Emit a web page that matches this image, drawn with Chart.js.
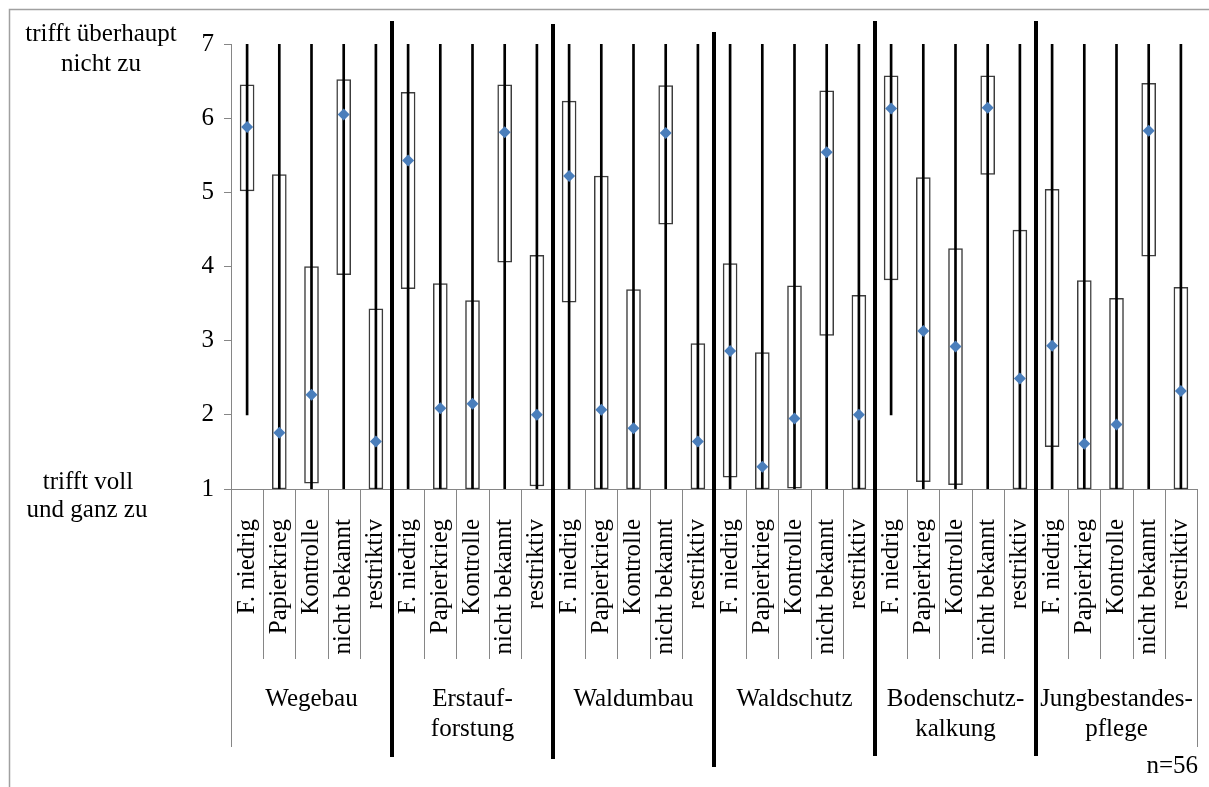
<!DOCTYPE html>
<html lang="de">
<head>
<meta charset="utf-8">
<title>Bewertung der Förderbereiche</title>
<script src="https://cdn.jsdelivr.net/npm/chart.js@4.4.1/dist/chart.umd.min.js"></script>
<style>
  html, body { margin: 0; padding: 0; background: #ffffff; }
  #wrap { width: 1209px; height: 787px; position: relative; }
  canvas { display: block; }
</style>
</head>
<body>
<div id="wrap"><canvas id="chart" width="1209" height="787"></canvas></div>
<script>
// Förderbereiche (Gruppen) und Antwortkategorien je Bereich
const groupLabels = [
  ['Wegebau'],
  ['Erstauf-', 'forstung'],
  ['Waldumbau'],
  ['Waldschutz'],
  ['Bodenschutz-', 'kalkung'],
  ['Jungbestandes-', 'pflege']
];
const answerLabels = ['F. niedrig', 'Papierkrieg', 'Kontrolle', 'nicht bekannt', 'restriktiv'];

// Skala 1 = trifft voll und ganz zu ... 7 = trifft überhaupt nicht zu
const yTicks = [1, 2, 3, 4, 5, 6, 7];

// Minimum / Maximum (Antennen)
const whiskerMin = [
  2, 1, 1, 1, 1,
  1, 1, 1, 1, 1,
  1, 1, 1, 1, 1,
  1, 1, 1, 1, 1,
  2, 1, 1, 1, 1,
  1, 1, 1, 1, 1
];
const whiskerMax = [
  7, 7, 7, 7, 7,
  7, 7, 7, 7, 7,
  7, 7, 7, 7, 7,
  7, 7, 7, 7, 7,
  7, 7, 7, 7, 7,
  7, 7, 7, 7, 7
];

// Unteres / oberes Quartil (Kasten)
const quartileLow = [
  5.02, 1.00, 1.08, 3.89, 1.00,
  3.70, 1.00, 1.00, 4.06, 1.04,
  3.52, 1.00, 1.00, 4.57, 1.00,
  1.16, 1.00, 1.01, 3.07, 1.00,
  3.82, 1.10, 1.06, 5.24, 1.00,
  1.57, 1.00, 1.00, 4.14, 1.00
];
const quartileHigh = [
  6.45, 5.24, 4.00, 6.52, 3.43,
  6.35, 3.77, 3.54, 6.45, 4.15,
  6.23, 5.22, 3.69, 6.44, 2.96,
  4.04, 2.84, 3.74, 6.37, 3.61,
  6.57, 5.20, 4.24, 6.57, 4.49,
  5.04, 3.81, 3.57, 6.47, 3.72
];

// Mittelwerte (Raute)
const meanValues = [
  5.88, 1.76, 2.27, 6.05, 1.64,
  5.43, 2.09, 2.15, 5.81, 2.00,
  5.22, 2.07, 1.82, 5.80, 1.64,
  2.86, 1.30, 1.95, 5.54, 2.00,
  6.13, 3.13, 2.92, 6.14, 2.49,
  2.93, 1.61, 1.87, 5.83, 2.32
];

const sampleNote = 'n=56';
const titleTop = ['trifft überhaupt', 'nicht zu'];
const titleBottom = ['trifft voll', 'und ganz zu'];

// ---- derived structures for Chart.js ----
const categories = [];
groupLabels.forEach(() => answerLabels.forEach(a => categories.push(a)));
const whiskerData = whiskerMin.map((lo, i) => [lo, whiskerMax[i]]);
const boxData = quartileLow.map((lo, i) => [lo, quartileHigh[i]]);

const SERIF = "'Liberation Serif', 'Times New Roman', Times, serif";
const AXIS_GRAY = '#868686';
const perGroup = answerLabels.length;

// Frame, category dividers, group labels, separators and annotations
const decorations = {
  id: 'decorations',
  beforeDraw(chart) {
    const ctx = chart.ctx;
    ctx.save();
    ctx.strokeStyle = '#a0a0a0';
    ctx.lineWidth = 1.5;
    ctx.beginPath();
    ctx.moveTo(9.5, chart.height);
    ctx.lineTo(9.5, 9.5);
    ctx.lineTo(chart.width, 9.5);
    ctx.stroke();
    ctx.restore();
  },
  afterDraw(chart) {
    const ctx = chart.ctx;
    const x = chart.scales.x;
    const area = chart.chartArea;
    const n = categories.length;
    const step = (x.getPixelForValue(1) - x.getPixelForValue(0));
    const edge = i => x.getPixelForValue(0) - step / 2 + i * step;

    ctx.save();
    // divider lines below the category axis
    ctx.strokeStyle = AXIS_GRAY;
    ctx.lineWidth = 1;
    for (let i = 0; i <= n; i++) {
      const px = Math.round(edge(i)) + 0.5;
      const isGroupEdge = i % perGroup === 0;
      ctx.beginPath();
      ctx.moveTo(px, area.bottom);
      ctx.lineTo(px, isGroupEdge ? 747 : 659);
      ctx.stroke();
    }

    // group labels
    ctx.fillStyle = '#000';
    ctx.font = '25px ' + SERIF;
    ctx.textAlign = 'center';
    ctx.textBaseline = 'alphabetic';
    groupLabels.forEach((lines, g) => {
      const cx = (edge(g * perGroup) + edge((g + 1) * perGroup)) / 2;
      lines.forEach((t, k) => ctx.fillText(t, cx, 706 + k * 30));
    });

    // y-axis end labels
    ctx.fillText(titleTop[0], 101, 41);
    ctx.fillText(titleTop[1], 101, 71);
    ctx.fillText(titleBottom[0], 88, 489);
    ctx.fillText(titleBottom[1], 87, 517);

    // sample size
    ctx.textAlign = 'right';
    ctx.fillText(sampleNote, 1198, 773);

    // heavy separators between the groups
    const tops = [21, 24, 32, 21, 21];
    const bottoms = [757, 759, 767, 756, 756];
    ctx.strokeStyle = '#000';
    ctx.lineWidth = 4;
    for (let g = 1; g < groupLabels.length; g++) {
      const px = edge(g * perGroup);
      ctx.beginPath();
      ctx.moveTo(px, tops[g - 1]);
      ctx.lineTo(px, bottoms[g - 1]);
      ctx.stroke();
    }
    ctx.restore();
  }
};

new Chart(document.getElementById('chart'), {
  data: {
    labels: categories,
    datasets: [
      {
        type: 'bar',
        label: 'Quartile',
        data: boxData,
        backgroundColor: '#ffffff',
        borderColor: '#3c3c3c',
        borderWidth: 1.5,
        borderSkipped: false,
        barThickness: 14,
        grouped: false,
        order: 2
      },
      {
        type: 'bar',
        label: 'Spannweite',
        data: whiskerData,
        backgroundColor: '#000000',
        borderWidth: 0,
        barThickness: 2,
        grouped: false,
        order: 1
      },
      {
        type: 'line',
        label: 'Mittelwert',
        data: meanValues,
        showLine: false,
        pointStyle: 'rectRot',
        pointRadius: 6,
        pointBackgroundColor: '#4a7ebb',
        pointBorderColor: '#4a7ebb',
        pointBorderWidth: 0,
        order: 0
      }
    ]
  },
  options: {
    responsive: false,
    animation: false,
    events: [],
    layout: { padding: { top: 44, right: 12, bottom: 0, left: 0 } },
    plugins: {
      legend: { display: false },
      tooltip: { enabled: false }
    },
    scales: {
      x: {
        type: 'category',
        offset: true,
        grid: { display: false },
        border: { display: true, color: AXIS_GRAY, width: 1 },
        ticks: {
          autoSkip: false,
          minRotation: 90,
          maxRotation: 90,
          padding: 22,
          color: '#000',
          font: { family: SERIF, size: 25 }
        },
        afterFit(scale) {
          scale.height = 787 - 489;
          scale.paddingLeft = 0;
          scale.paddingRight = 0;
        }
      },
      y: {
        min: 1,
        max: 7,
        afterBuildTicks(scale) { scale.ticks = yTicks.map(v => ({ value: v })); },
        grid: { drawOnChartArea: false, drawTicks: true, tickLength: 7, color: AXIS_GRAY },
        border: { display: true, color: AXIS_GRAY, width: 1 },
        ticks: {
          padding: 10,
          color: '#000',
          font: { family: SERIF, size: 25 }
        },
        afterFit(scale) {
          scale.width = 231;
          scale.paddingTop = 0;
          scale.paddingBottom = 0;
        }
      }
    }
  },
  plugins: [decorations]
});
</script>
</body>
</html>
